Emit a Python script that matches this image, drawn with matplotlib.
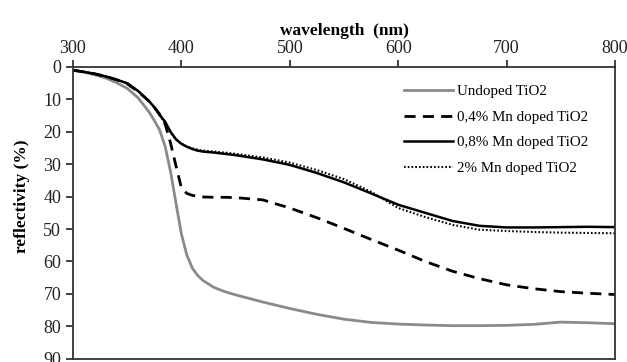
import matplotlib
matplotlib.use("Agg")
import matplotlib.pyplot as plt

# wavelength grid (nm) shared by all four spectra
wavelength = [300, 310, 320, 330, 340, 350, 360, 370, 375, 380, 385, 390, 395, 400,
              405, 410, 415, 420, 430, 440, 450, 475, 500, 525, 550, 575, 600, 625,
              650, 675, 700, 725, 750, 775, 800]

undoped = [1.0, 1.6, 2.4, 3.4, 4.8, 6.6, 9.5, 13.8, 16.5, 19.5, 24.5, 32.3, 42.0, 51.5,
           58.0, 62.0, 64.3, 65.9, 68.0, 69.3, 70.3, 72.5, 74.5, 76.3, 77.8, 78.8, 79.3, 79.6,
           79.8, 79.8, 79.7, 79.4, 78.7, 78.9, 79.2]
mn_04 = [1.0, 1.5, 2.1, 2.9, 3.9, 5.2, 7.6, 10.5, 12.4, 14.6, 17.6, 23.5, 30.5, 37.3,
         39.0, 39.6, 39.9, 40.1, 40.2, 40.2, 40.3, 41.0, 43.5, 46.5, 49.8, 53.2, 56.5, 60.0,
         63.0, 65.3, 67.2, 68.4, 69.3, 69.8, 70.2]
mn_08 = [1.0, 1.5, 2.1, 2.9, 3.9, 5.0, 7.4, 10.5, 12.4, 14.8, 16.9, 20.0, 22.3, 23.7,
         24.6, 25.3, 25.8, 26.1, 26.4, 26.8, 27.2, 28.5, 30.2, 32.7, 35.6, 39.0, 42.5, 45.0,
         47.5, 49.0, 49.5, 49.5, 49.4, 49.3, 49.4]
mn_2 = [1.0, 1.5, 2.1, 2.9, 3.9, 5.0, 7.4, 10.5, 12.5, 15.0, 17.2, 20.2, 22.4, 23.7,
        24.5, 25.1, 25.5, 25.8, 26.1, 26.4, 26.8, 27.9, 29.5, 31.8, 34.6, 38.5, 43.5, 46.3,
        48.7, 50.2, 50.6, 50.9, 51.1, 51.2, 51.3]

labels = ["Undoped TiO2", "0,4% Mn doped TiO2", "0,8% Mn doped TiO2", "2% Mn doped TiO2"]
x_ticks = [300, 400, 500, 600, 700, 800]
y_ticks = [0, 10, 20, 30, 40, 50, 60, 70, 80, 90]


def show():
    plt.rcParams['font.family'] = ['Liberation Serif', 'DejaVu Serif']
    fig = plt.figure(figsize=(6.27, 3.62), dpi=100)
    ax = fig.add_axes([0.1164, 0.009, 0.8645, 0.806])

    ax.plot(wavelength, undoped, color='#8a8a8a', lw=2.0, label=labels[0])
    ax.plot(wavelength, mn_04, color='black', lw=2.0, ls=(0, (4, 2.6)), label=labels[1])
    ax.plot(wavelength, mn_08, color='black', lw=1.8, label=labels[2])
    ax.plot(wavelength, mn_2, color='black', lw=1.5, ls=(0, (0.8, 1.0)), label=labels[3])

    ax.set_xlim(300, 800)
    ax.set_ylim(90, 0)
    ax.set_xticks(x_ticks)
    ax.set_yticks(y_ticks)
    ax.xaxis.tick_top()
    ax.xaxis.set_label_position('top')
    ax.tick_params(axis='both', direction='out', length=5, width=1.2, labelsize=13, colors='#222222')
    ax.tick_params(axis='x', pad=2)
    for s in ax.spines.values():
        s.set_linewidth(1.3)
        s.set_color('#333333')

    ax.set_xlabel('wavelength  (nm)', fontsize=12.5, fontweight='bold', labelpad=4)
    ax.set_ylabel('reflectivity (%)', fontsize=12.5, fontweight='bold')
    ax.yaxis.set_label_coords(-0.08, 0.557)

    ax.legend(loc='upper left', bbox_to_anchor=(0.585, 0.985), frameon=False,
              fontsize=10.8, handlelength=3.3, handletextpad=0.25, labelspacing=0.8)

    fig.savefig('out.png', dpi=100)


def main():
    show()


if __name__ == "__main__":
    main()
